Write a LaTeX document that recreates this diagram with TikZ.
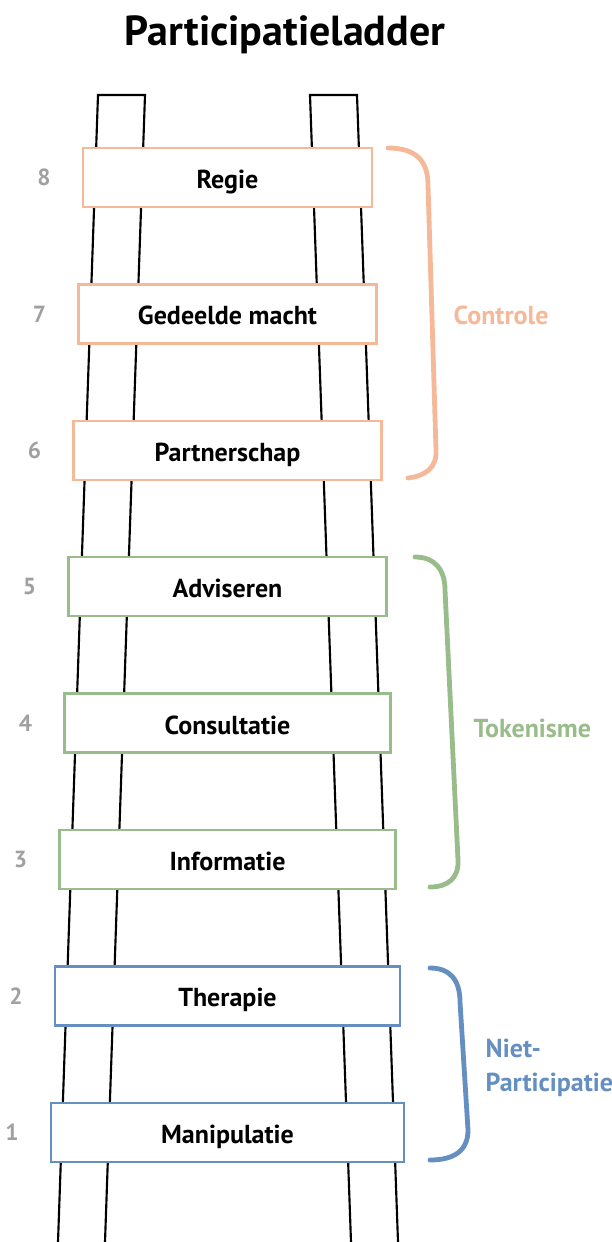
\documentclass[tikz,border=0pt]{standalone}
\usepackage{fontspec}
\setmainfont{PT Sans}
\usetikzlibrary{positioning}
\definecolor{ctrlcol}{RGB}{245,184,152}
\definecolor{tokcol}{RGB}{152,188,138}
\definecolor{nietcol}{RGB}{100,143,192}
\definecolor{numcol}{RGB}{160,160,160}
\tikzset{
  rail/.style={line width=1.6pt, line join=miter},
  rungbox/.style={draw, fill=white, line width=1.7pt, minimum height=44.25pt,
    inner sep=0pt, text height=16.5pt, text depth=0pt,
    font=\fontsize{19.5}{22}\selectfont\bfseries},
  numlbl/.style={text=numcol, font=\fontsize{17.5}{20}\selectfont\bfseries},
  bracket/.style={line width=3.6pt, line cap=round},
  grouplbl/.style={anchor=west, align=left, font=\fontsize{19.5}{25}\selectfont\bfseries}
}
\begin{document}
\begin{tikzpicture}[x=0.75pt,y=0.75pt,yscale=-1,xscale=1]
		\useasboundingbox (0,0) rectangle (611,1242);
		
		% Title
		\node[font=\fontsize{31.5}{36}\selectfont\bfseries] (title) at (285,35) {Participatieladder};
		
		% Ladder rails
		\draw[rail] (58,1242) -- (98,95) -- (145,95) -- (105,1242);
		\draw[rail] (351,1242) -- (310,95) -- (357,95) -- (398,1242);
		
		% Rungs
		\foreach \n/\lbl/\col/\w in {8/Regie/ctrlcol/289, 7/Gedeelde macht/ctrlcol/298,
		    6/Partnerschap/ctrlcol/308, 5/Adviseren/tokcol/318, 4/Consultatie/tokcol/326,
		    3/Informatie/tokcol/336, 2/Therapie/nietcol/345, 1/Manipulatie/nietcol/353}{
		  \node[rungbox, draw=\col, minimum width={\w*0.75pt}] (rung\n) at (227.5,{177.5+(8-\n)*136.4}) {\lbl};
		  \node[numlbl, left=20pt of rung\n] (num\n) {\n};
		}
		
		% Brackets
		\draw[bracket, ctrlcol] (388,148) .. controls (415,148) and (428,160) .. (428,185)
		   -- (436,450) .. controls (437,468) and (425,476) .. (408,478);
		\node[grouplbl, text=ctrlcol] (controle) at (449,315) {Controle};
		
		\draw[bracket, tokcol] (415,557) .. controls (435,557) and (445,570) .. (445,590)
		   -- (458,860) .. controls (459,878) and (448,887) .. (430,887);
		\node[grouplbl, text=tokcol] (tokenisme) at (469,728) {Tokenisme};
		
		\draw[bracket, nietcol] (430,968) .. controls (450,968) and (460,980) .. (460,1002)
		   -- (468,1130) .. controls (468,1150) and (455,1160) .. (430,1160);
		\node[grouplbl, text=nietcol] (niet) at (481,1068) {Niet-\\Participatie};
		
\end{tikzpicture}
\end{document}
